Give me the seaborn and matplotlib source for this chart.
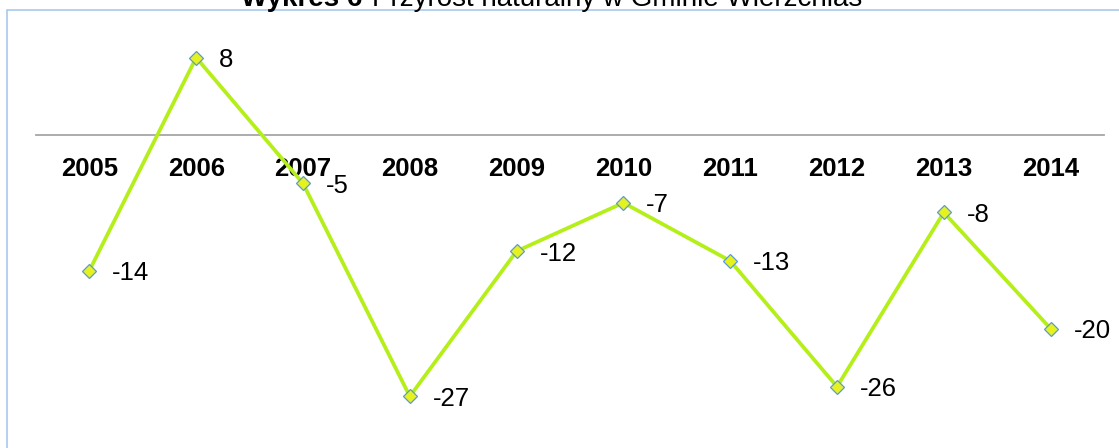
import pandas as pd
import matplotlib
matplotlib.use('Agg')
import matplotlib.pyplot as plt
import seaborn as sns
from matplotlib.patches import Rectangle

years = ['2005', '2006', '2007', '2008', '2009', '2010', '2011', '2012', '2013', '2014']
growth = [-14, 8, -5, -27, -12, -7, -13, -26, -8, -20]
title_bold = 'Wykres 6'
title_rest = 'Przyrost naturalny w Gminie Wierzchlas'

df = pd.DataFrame({'Rok': years, 'Przyrost': growth})

sns.set_style('white')
plt.rcParams['font.family'] = ['Liberation Sans', 'DejaVu Sans']
plt.rcParams['text.color'] = 'black'
plt.rcParams['xtick.color'] = 'black'

fig = plt.figure(figsize=(11.19, 4.48), dpi=100)
ax = fig.add_axes([36 / 1119, 0.0504, (1104 - 36) / 1119, 0.9147 - 0.0504])

sns.lineplot(data=df, x='Rok', y='Przyrost', ax=ax, color='#b5ef19', linewidth=2.7,
             marker='D', markersize=7.5, markerfacecolor='#e6f21c',
             markeredgecolor='#5b9bd5', markeredgewidth=0.9)

for i, v in enumerate(growth):
    ax.annotate(str(v), (i, v), xytext=(16.5, 0), textcoords='offset points',
                ha='left', va='center_baseline', fontsize=18.5, color='black')

ax.set_xlim(-0.5, len(years) - 0.5)
ax.set_ylim(-30, 10)
ax.set_xlabel('')
ax.set_ylabel('')
ax.set_yticks([])
for s in ['top', 'right', 'left']:
    ax.spines[s].set_visible(False)
ax.spines['bottom'].set_position(('data', 0))
ax.spines['bottom'].set_color('#a6a6a6')
ax.spines['bottom'].set_linewidth(1.3)
ax.spines['bottom'].set_zorder(0)
ax.tick_params(axis='x', length=0, pad=16, labelsize=18.5, labelcolor='black')
for lab in ax.get_xticklabels():
    lab.set_fontweight('bold')

# ramka wykresu
fig.patches.append(Rectangle((7 / 1119, -0.1), 2, 1.1 - 10 / 448, transform=fig.transFigure,
                             fill=False, edgecolor='#a9c8ee', linewidth=1.2))

fig.text(370 / 1119, 1 - 6 / 448, title_bold + ' ', ha='right', va='baseline',
         fontsize=20, fontweight='bold', color='black')
fig.text(372 / 1119, 1 - 6 / 448, title_rest, ha='left', va='baseline', fontsize=20,
         color='black')

fig.savefig('out.png', dpi=100)
